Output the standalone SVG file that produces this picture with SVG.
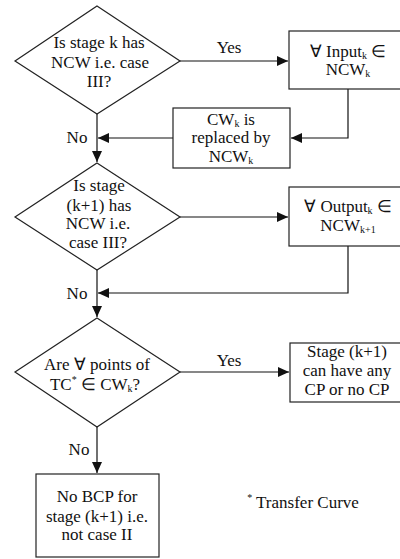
<svg xmlns="http://www.w3.org/2000/svg" width="400" height="559" viewBox="0 0 400 559">
<style>
.sh{fill:#fff;stroke:#222;stroke-width:1.2}
.ln{fill:none;stroke:#111;stroke-width:1.2}
text{font-family:"Liberation Serif","Times New Roman",serif;font-size:17px;fill:#111;text-anchor:middle}
.sub{font-size:10px}
.sup{font-size:10px}
</style>
<defs>
<marker id="ah" markerUnits="userSpaceOnUse" markerWidth="12" markerHeight="10" refX="11" refY="5" orient="auto">
<path d="M0,0 L11,5 L0,10 Z" fill="#111"/>
</marker>
</defs>
<rect width="400" height="559" fill="#fff"/>
<g id="connectors">
<path class="ln" d="M180,61 H288" marker-end="url(#ah)"/>
<path class="ln" d="M348,89 V138 H291" marker-end="url(#ah)"/>
<path class="ln" d="M173,138 H98" marker-end="url(#ah)"/>
<path class="ln" d="M97,114 V162" marker-end="url(#ah)"/>
<path class="ln" d="M180,217 H288" marker-end="url(#ah)"/>
<path class="ln" d="M348,246 V293 H98" marker-end="url(#ah)"/>
<path class="ln" d="M97,270 V317" marker-end="url(#ah)"/>
<path class="ln" d="M180,372 H289" marker-end="url(#ah)"/>
<path class="ln" d="M97,427 V473" marker-end="url(#ah)"/>
<text x="229" y="53">Yes</text>
<text x="229" y="366">Yes</text>
<text x="77" y="143">No</text>
<text x="77" y="299">No</text>
<text x="79" y="455">No</text>
</g>
<g id="d1">
<polygon class="sh" points="97,6 180,61 97,114 15,61"/>
<text x="99" y="48">Is stage k has</text>
<text x="100" y="68">NCW  i.e. case</text>
<text x="99" y="87">III?</text>
</g>
<g id="b1">
<rect class="sh" x="289" y="31" width="120" height="58"/>
<text x="348" y="57">∀ Input<tspan class="sub" dy="2">k</tspan><tspan dy="-2"> ∈</tspan></text>
<text x="348" y="75">NCW<tspan class="sub" dy="2">k</tspan></text>
</g>
<g id="b_cw">
<rect class="sh" x="173" y="108" width="117" height="60"/>
<text x="231" y="125">CW<tspan class="sub" dy="2">k</tspan><tspan dy="-2"> is</tspan></text>
<text x="231" y="143">replaced by</text>
<text x="231" y="162">NCW<tspan class="sub" dy="2">k</tspan></text>
</g>
<g id="d2">
<polygon class="sh" points="97,163 180,217 97,270 15,217"/>
<text x="99" y="191">Is stage</text>
<text x="99" y="211">(k+1) has</text>
<text x="98" y="229">NCW  i.e.</text>
<text x="98" y="248">case III?</text>
</g>
<g id="b2">
<rect class="sh" x="289" y="187" width="120" height="59"/>
<text x="348" y="212">∀ Output<tspan class="sub" dy="2">k</tspan><tspan dy="-2"> ∈</tspan></text>
<text x="348" y="231">NCW<tspan class="sub" dy="2">k+1</tspan></text>
</g>
<g id="d3">
<polygon class="sh" points="97,318 180,372 97,427 15,372"/>
<text x="97" y="370">Are ∀ points of</text>
<text x="95" y="390">TC<tspan class="sup" dy="-7">*</tspan><tspan dy="7"> ∈ CW</tspan><tspan class="sub" dy="2">k</tspan><tspan dy="-2">?</tspan></text>
</g>
<g id="b3">
<rect class="sh" x="290" y="343" width="116" height="59"/>
<text x="347" y="357">Stage (k+1)</text>
<text x="347" y="376">can have any</text>
<text x="347" y="395">CP or no CP</text>
</g>
<g id="b4">
<rect class="sh" x="36" y="474" width="123" height="83"/>
<text x="97" y="502">No BCP for</text>
<text x="97" y="522">stage (k+1) i.e.</text>
<text x="97" y="540">not case II</text>
</g>
<g id="note">
<text x="303" y="508"><tspan class="sup" dy="-7">*</tspan><tspan dy="7"> Transfer Curve</tspan></text>
</g>
</svg>
